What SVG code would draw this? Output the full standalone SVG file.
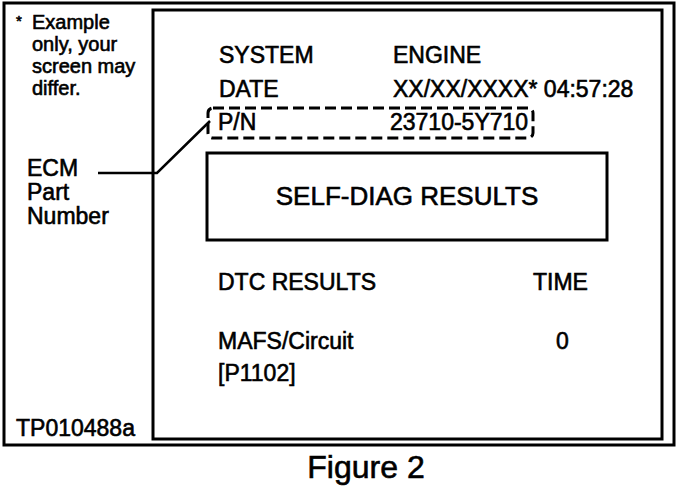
<svg xmlns="http://www.w3.org/2000/svg" width="688" height="488" viewBox="0 0 688 488">
<style>
  text { font-family: "Liberation Sans", Arial, sans-serif; fill: #000; stroke: #000; stroke-width: 0.6; }
  .note { font-size: 20px; }
  .main { font-size: 23px; }
  .frame { fill: none; stroke: #000; stroke-width: 3; }
  .dash { fill: none; stroke: #000; stroke-width: 3; stroke-dasharray: 11 5; }
  .lead { fill: none; stroke: #000; stroke-width: 2.5; }
</style>
<rect width="688" height="488" fill="#fff"/>
<g id="outer-frame">
  <rect class="frame" x="4" y="3" width="670" height="442"/>
</g>
<g id="screen">
  <rect class="frame" x="153" y="10" width="509" height="429"/>
</g>
<g id="note">
  <text x="16" y="26" style="font-size:15px">*</text>
  <text class="note" x="32" y="29">Example</text>
  <text class="note" x="32" y="51">only, your</text>
  <text class="note" x="32" y="73">screen may</text>
  <text class="note" x="32" y="95">differ.</text>
</g>
<g id="system-row">
  <text class="main" x="219" y="63">SYSTEM</text>
  <text class="main" x="393" y="63">ENGINE</text>
</g>
<g id="date-row">
  <text class="main" x="219" y="97">DATE</text>
  <text class="main" x="393" y="97">XX/XX/XXXX* 04:57:28</text>
</g>
<g id="pn-row">
  <rect class="dash" x="208" y="108" width="325" height="30" rx="5"/>
  <text class="main" x="218" y="130">P/N</text>
  <text class="main" x="390" y="130">23710-5Y710</text>
</g>
<g id="self-diag">
  <rect class="frame" x="207" y="153" width="400" height="87"/>
  <text x="407" y="205" text-anchor="middle" style="font-size:26px">SELF-DIAG RESULTS</text>
</g>
<g id="dtc-header">
  <text class="main" x="218" y="290">DTC RESULTS</text>
  <text class="main" x="533" y="290">TIME</text>
</g>
<g id="dtc-row">
  <text class="main" x="218" y="349">MAFS/Circuit</text>
  <text class="main" x="556" y="349">0</text>
  <text class="main" x="218" y="381">[P1102]</text>
</g>
<g id="ecm-label">
  <text class="main" x="27" y="176">ECM</text>
  <text class="main" x="27" y="200">Part</text>
  <text class="main" x="27" y="224">Number</text>
</g>
<g id="connectors">
  <polyline class="lead" points="98,173 157,173 210,121"/>
</g>
<g id="footer">
  <text class="main" x="16" y="436">TP010488a</text>
  <text x="366" y="478" text-anchor="middle" style="font-size:32px">Figure 2</text>
</g>
</svg>
